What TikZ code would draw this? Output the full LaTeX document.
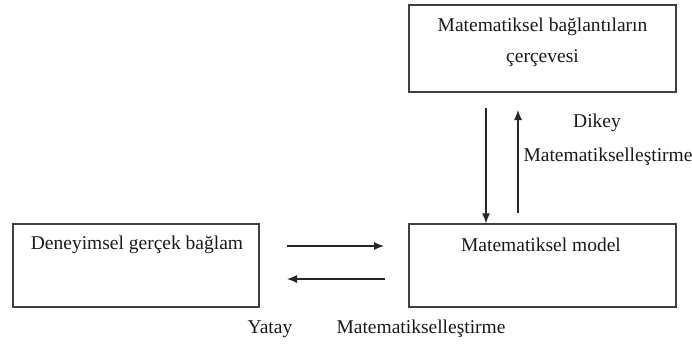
\documentclass[tikz,border=0pt]{standalone}
\usepackage{fontspec}
\setmainfont{Liberation Serif}
\usetikzlibrary{arrows.meta}
\begin{document}
\begin{tikzpicture}[x=1pt,y=-1pt,
  every node/.style={font=\fontsize{19.5}{31}\selectfont, text=black!90},
  box/.style={draw=black!75, line width=1.3pt, inner sep=0pt},
  txt/.style={inner sep=0pt, align=center},
  link/.style={draw=black!85, line width=1.2pt, -{Latex[length=10pt,width=8pt]}}]
  \useasboundingbox (0,0) rectangle (692,349);
  % three boxes
  \node[box, minimum width=267pt, minimum height=87pt] (frame) at (542.5,48.5) {};
  \node[box, minimum width=267pt, minimum height=83pt] (model) at (542.5,265.5) {};
  \node[box, minimum width=246pt, minimum height=83pt] (context) at (136,265.5) {};
  % box texts
  \node[txt] (frametext) at (542.5,42) {Matematiksel bağlantıların\\çerçevesi};
  \node[txt] (modeltext) at (541,245) {Matematiksel model};
  \node[txt] (contexttext) at (137,245) {Deneyimsel gerçek bağlam};
  % arrow end points
  \coordinate (h1s) at (287,246);
  \coordinate (h1e) at (384,246);
  \coordinate (h2s) at (385,279);
  \coordinate (h2e) at (287,279);
  \coordinate (v1s) at (486,108);
  \coordinate (v2s) at (518,213);
  \coordinate (v2e) at (518,110);
  % horizontal mathematisation
  \draw[link] (h1s) -- (h1e);
  \draw[link] (h2s) -- (h2e);
  % vertical mathematisation
  \draw[link] (v1s) -- (v1s |- model.north);
  \draw[link] (v2s) -- (v2e);
  % captions
  \node[txt] (dikey) at (597,123) {Dikey};
  \node[txt] (dikeym) at (608,157) {Matematikselleştirme};
  \node[txt] (yatay) at (270,329) {Yatay};
  \node[txt] (yataym) at (421,329) {Matematikselleştirme};
\end{tikzpicture}
\end{document}
